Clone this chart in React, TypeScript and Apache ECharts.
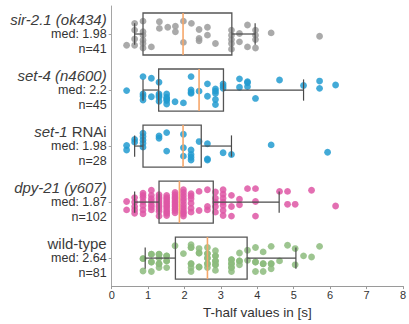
import React, { useEffect, useRef } from "react";
import * as echarts from "echarts";

// categories bottom -> top
const categoryTitles = ["wild-type", "dpy-21 (y607)", "set-1 RNAi", "set-4 (n4600)", "sir-2.1 (ok434)"];
const medianLabels = ["2.64", "1.87", "1.98", "2.2", "1.98"];
const countLabels = [81, 102, 28, 45, 41];
const pointColors = ["#8cbb7c", "#de56a4", "#229bd0", "#229bd0", "#9b9b9b"];

// [lower whisker, q1, median, q3, upper whisker]
const wildBox = [0.92, 1.75, 2.63, 3.72, 5.06];
const dpyBox = [0.63, 1.3, 1.86, 2.79, 4.6];
const set1Box = [0.63, 0.86, 1.96, 2.46, 3.29];
const set4Box = [0.86, 1.29, 2.4, 3.07, 5.27];
const sirBox = [0.63, 0.86, 1.96, 3.3, 3.94];

const xTicks = [0, 1, 2, 3, 4, 5, 6, 7, 8];

// [T-half value, jitter (in category units)]
const sirPoints = [
  [0.41, -0.2],
  [0.63, 0.19], [0.63, 0.07], [0.63, -0.09], [0.63, -0.2],
  [0.86, 0.23], [0.86, 0.04], [0.86, -0.02], [0.86, -0.11], [0.86, -0.17], [0.86, -0.25],
  [1.09, -0.23],
  [1.31, 0.22], [1.31, 0.1],
  [1.54, 0.12],
  [1.75, 0.14], [1.75, 0.04],
  [1.97, 0.23], [1.97, -0.15],
  [2.19, 0.19],
  [2.4, 0.08], [2.4, -0.08], [2.4, -0.12],
  [2.63, 0.12], [2.63, -0.02],
  [2.85, -0.17],
  [3.29, 0.07], [3.29, -0.02], [3.29, -0.1], [3.29, -0.17], [3.29, -0.27],
  [3.51, 0.01], [3.51, -0.14],
  [3.73, 0.16], [3.73, -0.23],
  [3.95, 0.07], [3.95, -0.02], [3.95, -0.1], [3.95, -0.25],
  [4.38, 0.02],
  [5.71, -0.04],
];

const set4Points = [
  [0.41, -0.01],
  [0.86, 0.24], [0.86, -0.07], [0.86, -0.18], [0.86, -0.11],
  [1.09, 0.21], [1.09, -0.12],
  [1.3, 0.14], [1.3, -0.07], [1.3, -0.13], [1.3, -0.2], [1.3, -0.1],
  [1.51, -0.07], [1.51, -0.13], [1.51, -0.19], [1.51, -0.25], [1.51, -0.16],
  [1.74, -0.21],
  [1.97, -0.23],
  [2.18, 0.24], [2.18, 0.0], [2.18, -0.06], [2.18, -0.04],
  [2.4, -0.02],
  [2.63, 0.11], [2.63, -0.11],
  [2.85, 0.02], [2.85, -0.06], [2.85, -0.17], [2.85, -0.26], [2.85, -0.02],
  [3.06, 0.11], [3.06, 0.03], [3.06, 0.07],
  [3.51, 0.2], [3.51, 0.05],
  [3.73, 0.15], [3.73, 0.06], [3.73, 0.13],
  [3.95, -0.15],
  [4.61, 0.18],
  [5.27, 0.08],
  [5.71, 0.16], [5.71, 0.03],
  [6.15, 0.09],
];

const set1Points = [
  [0.41, 0.01], [0.41, -0.07],
  [0.63, 0.12], [0.63, 0.07],
  [0.86, 0.23], [0.86, 0.17], [0.86, 0.11], [0.86, -0.02], [0.86, 0.05],
  [1.3, 0.18], [1.3, 0.14],
  [1.51, 0.24], [1.51, -0.09],
  [1.97, 0.21], [1.97, -0.03], [1.97, -0.18],
  [2.18, -0.07], [2.18, -0.15], [2.18, -0.25], [2.18, -0.2],
  [2.4, 0.08],
  [2.63, 0.04], [2.63, -0.23], [2.63, -0.25],
  [3.06, -0.12],
  [3.29, -0.15],
  [4.38, 0.02],
  [5.93, -0.11],
];

const dpyPoints = [
  [0.41, 0.01], [0.41, -0.14],
  [0.63, 0.08], [0.63, 0.0], [0.63, -0.08], [0.63, -0.2], [0.63, -0.14],
  [0.86, 0.16], [0.86, 0.08], [0.86, 0.01], [0.86, -0.14], [0.86, -0.21], [0.86, -0.06], [0.86, 0.12],
  [1.09, 0.21], [1.09, 0.12], [1.09, 0.06], [1.09, -0.05], [1.09, -0.14], [1.09, 0.01], [1.09, -0.09],
  [1.3, 0.13], [1.3, 0.06], [1.3, -0.02], [1.3, -0.09], [1.3, -0.17], [1.3, -0.25], [1.3, 0.09], [1.3, 0.02], [1.3, -0.06], [1.3, -0.13],
  [1.51, 0.12], [1.51, 0.05], [1.51, -0.02], [1.51, -0.09], [1.51, -0.17], [1.51, -0.24], [1.51, 0.08], [1.51, 0.01], [1.51, -0.06], [1.51, -0.13], [1.51, -0.2],
  [1.74, 0.17], [1.74, 0.09], [1.74, 0.02], [1.74, -0.05], [1.74, -0.12], [1.74, -0.19], [1.74, 0.13], [1.74, 0.06], [1.74, -0.01], [1.74, -0.08], [1.74, -0.15],
  [1.97, 0.22], [1.97, 0.12], [1.97, 0.02], [1.97, -0.09], [1.97, -0.18], [1.97, -0.25], [1.97, 0.17], [1.97, 0.07], [1.97, -0.04], [1.97, -0.14], [1.97, -0.21],
  [2.18, 0.15], [2.18, 0.06], [2.18, -0.11], [2.18, -0.18], [2.18, 0.11], [2.18, -0.02],
  [2.4, 0.19], [2.4, -0.15],
  [2.63, 0.22], [2.63, -0.08], [2.63, -0.14],
  [2.85, 0.18], [2.85, 0.07], [2.85, -0.08], [2.85, -0.18], [2.85, 0.0],
  [3.06, 0.22], [3.06, 0.14], [3.06, 0.07], [3.06, -0.06], [3.06, -0.15], [3.06, -0.24], [3.06, 0.0],
  [3.29, 0.12], [3.29, -0.08], [3.29, -0.25],
  [3.51, 0.05], [3.51, -0.05],
  [3.73, 0.24],
  [3.95, 0.24], [3.95, 0.01], [3.95, -0.25],
  [4.61, 0.19],
  [4.83, 0.19], [4.83, -0.04],
  [5.04, -0.04],
  [5.49, 0.21],
  [6.15, -0.07],
];

const wildPoints = [
  [0.86, -0.01], [0.86, -0.23],
  [1.09, 0.07], [1.09, -0.07], [1.09, -0.24],
  [1.3, 0.07], [1.3, 0.0], [1.3, -0.1], [1.3, -0.17],
  [1.51, 0.04], [1.51, -0.05], [1.51, -0.17],
  [1.74, 0.22],
  [1.97, 0.08],
  [2.18, 0.24], [2.18, 0.19], [2.18, -0.1], [2.18, -0.17], [2.18, -0.24],
  [2.4, 0.17], [2.4, 0.09], [2.4, -0.16],
  [2.63, 0.19], [2.63, 0.08], [2.63, 0.0], [2.63, -0.1], [2.63, -0.17],
  [2.85, 0.13], [2.85, 0.04], [2.85, -0.05], [2.85, -0.12], [2.85, -0.22],
  [3.29, -0.03], [3.29, -0.1], [3.29, -0.17], [3.29, -0.24],
  [3.51, 0.09], [3.51, -0.05], [3.51, -0.12],
  [3.73, 0.14], [3.73, -0.04],
  [3.95, 0.19], [3.95, -0.07], [3.95, -0.24],
  [4.16, 0.11], [4.16, -0.1], [4.16, -0.24],
  [4.38, 0.21], [4.38, -0.1], [4.38, -0.19],
  [4.61, -0.05],
  [4.83, 0.23],
  [5.04, 0.17], [5.04, -0.12],
  [5.27, 0.04],
  [5.49, 0.02],
  [5.71, 0.21],
  [1.3, 0.07], [1.3, -0.1], [1.51, 0.04], [1.51, -0.05], [1.09, 0.07], [1.09, -0.07],
  [2.18, 0.19], [2.18, -0.1], [2.4, 0.09], [2.63, 0.08], [2.63, 0.0], [2.63, -0.1],
  [2.85, 0.04], [2.85, -0.05], [2.85, -0.12], [3.29, -0.03], [3.29, -0.1], [3.29, -0.17],
  [3.51, -0.05], [3.95, -0.07], [0.86, -0.01], [2.4, -0.16], [4.38, -0.1], [4.16, -0.1],
];

const boxes = [wildBox, dpyBox, set1Box, set4Box, sirBox];
const pointSets = [wildPoints, dpyPoints, set1Points, set4Points, sirPoints];

const FONT = "Liberation Sans, Arial, sans-serif";
const TXT = "#333";
const TITLE = "#3c3c3c";

function titleRich(i: number): string {
  const t = categoryTitles[i];
  if (t === "wild-type") return "{tn|wild-type}";
  if (t === "set-1 RNAi") return "{t|set-1}{tn| RNAi}";
  return "{t|" + t + "}";
}

export default function App() {
  const ref = useRef<HTMLDivElement>(null);
  useEffect(() => {
    if (!ref.current) return;
    const chart = echarts.init(ref.current, null, { renderer: "svg" });
    const scatterSeries = pointSets.map((pts, idx) => ({
      type: "scatter",
      xAxisIndex: 0,
      yAxisIndex: 1,
      symbol: "circle",
      symbolSize: 6.8,
      z: 2,
      itemStyle: { color: pointColors[idx], opacity: 0.85 },
      data: pts.map((p) => [p[0], idx + p[1]]),
    }));
    const option: any = {
      animation: false,
      textStyle: { fontFamily: FONT, fontWeight: "normal" },
      grid: { left: 111.7, right: 3, top: 6, bottom: 36, containLabel: false },
      xAxis: {
        type: "value",
        min: xTicks[0],
        max: xTicks[xTicks.length - 1],
        interval: 1,
        name: "T-half values in [s]",
        nameLocation: "middle",
        nameGap: 17,
        nameTextStyle: { fontSize: 13.5, color: TXT, fontFamily: FONT, fontWeight: "normal" },
        axisLine: { onZero: false, lineStyle: { color: "#9a9a9a", width: 1 } },
        axisTick: { show: true, length: 3, lineStyle: { color: "#9a9a9a" } },
        axisLabel: { fontSize: 11, color: TXT, margin: 3, fontFamily: FONT, fontWeight: "normal" },
        splitLine: { show: false },
      },
      yAxis: [
        {
          type: "category",
          data: categoryTitles,
          boundaryGap: true,
          axisLine: { onZero: false, lineStyle: { color: "#a5a5a5", width: 1 } },
          axisTick: { show: true, length: 3, alignWithLabel: true, lineStyle: { color: "#a5a5a5" } },
          axisLabel: {
            margin: 5,
            align: "right",
            fontWeight: "normal",
            formatter: (_v: string, i: number) =>
              titleRich(i) + "\n{m|med: " + medianLabels[i] + "}\n{m|n=" + countLabels[i] + "}",
            rich: {
              t: { fontSize: 15, fontStyle: "italic", fontWeight: "normal", color: TITLE, lineHeight: 14.5, fontFamily: FONT, align: "right" },
              tn: { fontSize: 15, fontWeight: "normal", color: TITLE, lineHeight: 14.5, fontFamily: FONT, align: "right" },
              m: { fontSize: 12.5, fontWeight: "normal", color: TXT, lineHeight: 14.5, fontFamily: FONT, align: "right" },
            },
          },
          splitLine: { show: false },
        },
        {
          type: "value",
          min: -0.5,
          max: 4.5,
          show: false,
          axisLine: { show: false, onZero: false },
          axisTick: { show: false },
          axisLabel: { show: false },
          splitLine: { show: false },
        },
      ],
      series: [
        ...scatterSeries,
        {
          type: "custom",
          xAxisIndex: 0,
          yAxisIndex: 1,
          z: 5,
          encode: { x: [1, 2, 3, 4, 5], y: 0 },
          data: boxes.map((b, i) => [i, ...b]),
          renderItem: (_params: any, api: any) => {
            const c = api.value(0);
            const pLo = api.coord([api.value(1), c]);
            const pQ1 = api.coord([api.value(2), c]);
            const pMd = api.coord([api.value(3), c]);
            const pQ3 = api.coord([api.value(4), c]);
            const pHi = api.coord([api.value(5), c]);
            const band = Math.abs(api.size([0, 1])[1]);
            const hb = band * 0.375;
            const hc = band * 0.19;
            const y = pLo[1];
            const wStyle = { stroke: "#4a4a4a", lineWidth: 1.2, fill: "none" };
            return {
              type: "group",
              children: [
                { type: "line", shape: { x1: pLo[0], y1: y, x2: pQ1[0], y2: y }, style: wStyle },
                { type: "line", shape: { x1: pQ3[0], y1: y, x2: pHi[0], y2: y }, style: wStyle },
                { type: "line", shape: { x1: pLo[0], y1: y - hc, x2: pLo[0], y2: y + hc }, style: wStyle },
                { type: "line", shape: { x1: pHi[0], y1: y - hc, x2: pHi[0], y2: y + hc }, style: wStyle },
                {
                  type: "rect",
                  shape: { x: pQ1[0], y: y - hb, width: pQ3[0] - pQ1[0], height: 2 * hb },
                  style: { fill: "none", stroke: "#555", lineWidth: 1.3 },
                },
                {
                  type: "line",
                  shape: { x1: pMd[0], y1: y - hb, x2: pMd[0], y2: y + hb },
                  style: { stroke: "#f6a76a", lineWidth: 1.6 },
                },
              ],
            };
          },
        },
      ],
    };
    chart.setOption(option);
    return () => chart.dispose();
  }, []);
  return (
    <div
      ref={ref}
      style={{ position: "fixed", left: 0, top: 0, width: 409, height: 324, background: "#fff" }}
    />
  );
}
